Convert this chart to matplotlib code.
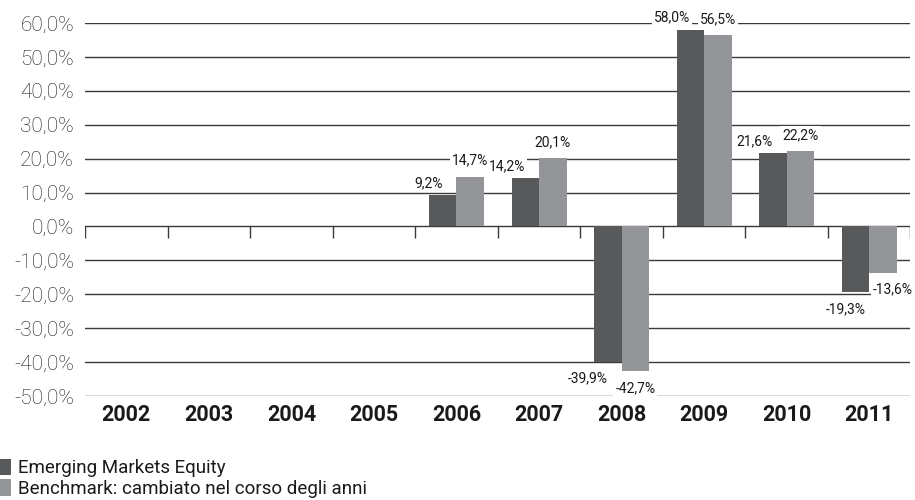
import numpy as np
import matplotlib
matplotlib.use("Agg")
import matplotlib.pyplot as plt
from matplotlib.patches import Patch

plt.rcParams["font.family"] = ["Roboto", "DejaVu Sans"]

# data
years = ["2002", "2003", "2004", "2005", "2006", "2007", "2008", "2009", "2010", "2011"]
fund = [np.nan, np.nan, np.nan, np.nan, 9.2, 14.2, -39.9, 58.0, 21.6, -19.3]
bench = [np.nan, np.nan, np.nan, np.nan, 14.7, 20.1, -42.7, 56.5, 22.2, -13.6]
series_names = ["Emerging Markets Equity", "Benchmark: cambiato nel corso degli anni"]
y_ticks = [-50, -40, -30, -20, -10, 0, 10, 20, 30, 40, 50, 60]

dark = "#58595b"
light = "#949599"
text_col = "#1a1a1a"

fig = plt.figure(figsize=(9.15, 5.0), dpi=100)
ax = fig.add_axes([0.093, 0.208, 0.902, 0.746])

x = np.arange(len(years))
w = 1 / 3

ax.bar(x - w / 2, fund, width=w, color=dark, zorder=3)
ax.bar(x + w / 2, bench, width=w, color=light, zorder=3)

ax.set_xlim(-0.5, len(years) - 0.5)
ax.set_ylim(-50, 60)

# horizontal gridlines
for t in y_ticks:
    ax.axhline(t, color="#3a3a3a", lw=1.0, zorder=1)

# zero line with boundary ticks hanging below
bounds = np.arange(len(years) + 1) - 0.5
ax.vlines(bounds, -3.5, 0, color="#3a3a3a", lw=1.0, zorder=2)

for s in ax.spines.values():
    s.set_visible(False)

ax.set_yticks(y_ticks)
ax.set_yticklabels([f"{t:.1f}%".replace(".", ",") for t in y_ticks],
                   fontsize=15, fontweight="light", color=text_col)
ax.set_xticks(x)
ax.set_xticklabels(years, fontsize=15.5, fontweight="bold", color=text_col)
ax.tick_params(axis="both", length=0)
ax.tick_params(axis="y", pad=8)
ax.tick_params(axis="x", pad=6)


def fmt(v):
    return f"{v:.1f}%".replace(".", ",")


box = dict(facecolor="white", edgecolor="none", pad=1.5)
for i in range(len(years)):
    for vals, dx, ha, xo, up in ((fund, -w / 2, "right", 0, 5), (bench, w / 2, "center", 0, 9)):
        v = vals[i]
        if np.isnan(v):
            continue
        if v >= 0:
            yo, va = up, "bottom"
        else:
            yo, va = -10, "top"
        if v < 0 and i == len(years) - 1:
            xo += 10
        ax.annotate(fmt(v), (x[i] + dx, v), xytext=(xo, yo), textcoords="offset pixels",
                    ha=ha, va=va, fontsize=10, color=text_col, bbox=box, zorder=4)

handles = [Patch(facecolor=dark, edgecolor="none"), Patch(facecolor=light, edgecolor="none")]
fig.legend(handles, series_names, loc="lower left", bbox_to_anchor=(0.0, 0.004),
           frameon=False, prop=dict(size=13.5), handlelength=0.6,
           handleheight=1.0, handletextpad=0.35, labelspacing=0.1, borderpad=0.0,
           borderaxespad=0.0, labelcolor=text_col)

fig.savefig("out.png", dpi=100)
plt.close(fig)
